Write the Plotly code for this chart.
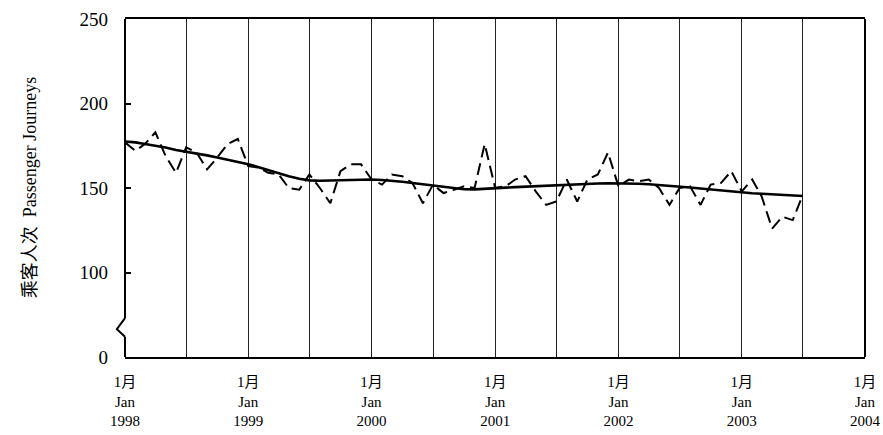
import plotly.graph_objects as go
import pandas as pd

# Months Jan 1998 .. Jul 2003
months = pd.date_range("1998-01-01", "2003-07-01", freq="MS")

actual = [
    177, 172, 176, 183, 169, 159, 174, 171, 161, 168, 176, 179,   # 1998
    163, 162, 159, 158, 150, 149, 158, 150, 141, 160, 164, 164,   # 1999
    155, 152, 158, 157, 153, 141, 152, 147, 149, 151, 150, 176,   # 2000
    150, 151, 155, 157, 148, 140, 142, 155, 142, 155, 158, 171,   # 2001
    151, 155, 154, 155, 150, 140, 150, 151, 140, 152, 153, 160,   # 2002
    148, 155, 145, 126, 133, 131, 146,                            # 2003
]

trend = [
    177.5, 177.0, 176.0, 175.0, 174.0, 172.5, 171.5, 170.5, 169.3, 168.0, 166.7, 165.3,
    164.0, 162.3, 160.5, 158.7, 157.0, 155.5, 154.5, 154.3, 154.5, 154.8, 155.0, 155.0,
    155.0, 154.7, 154.3, 153.7, 153.0, 152.2, 151.3, 150.5, 149.8, 149.3, 149.2, 149.4,
    149.8, 150.2, 150.5, 150.8, 151.1, 151.5, 151.8, 152.1, 152.3, 152.5, 152.7, 152.8,
    152.8, 152.7, 152.5, 152.2, 151.8, 151.3, 150.8, 150.3, 149.7, 149.1, 148.5, 147.8,
    147.2, 146.9, 146.6, 146.3, 146.0, 145.6, 145.3,
]

years = [1998, 1999, 2000, 2001, 2002, 2003, 2004]
x_tickvals = []
x_ticktext = []
for y in years:
    x_tickvals.append(f"{y}-01-01")
    x_ticktext.append(f"1月<br>Jan<br>{y}")
    if y < 2004:
        x_tickvals.append(f"{y}-07-01")
        x_ticktext.append("")

y_tickvals = [50, 100, 150, 200, 250]
y_ticktext = ["0", "100", "150", "200", "250"]

SERIF = "Liberation Serif, Times New Roman, Noto Sans CJK SC, serif"

fig = go.Figure()
fig.add_trace(go.Scatter(x=months, y=actual, mode="lines",
                         line=dict(color="black", width=2, dash="12px,6px"),
                         name="actual"))
fig.add_trace(go.Scatter(x=months, y=trend, mode="lines",
                         line=dict(color="black", width=2.6),
                         name="trend"))

fig.update_layout(
    width=883, height=435,
    margin=dict(l=125, r=18, t=19, b=78),
    plot_bgcolor="white", paper_bgcolor="white",
    showlegend=False,
    font=dict(family=SERIF, color="black"),
)

fig.update_xaxes(
    type="date", automargin=False,
    range=["1998-01-01", "2004-01-01"],
    tickmode="array", tickvals=x_tickvals, ticktext=x_ticktext,
    ticks="", showgrid=True, gridcolor="#222222", gridwidth=1,
    showline=True, linecolor="black", linewidth=2, mirror=True,
    tickfont=dict(size=15, family=SERIF),
    ticklabelstandoff=10,
    zeroline=False,
)

fig.update_yaxes(
    automargin=False,
    range=[50, 250],
    tickmode="array", tickvals=y_tickvals, ticktext=y_ticktext,
    ticks="inside", ticklen=6, tickcolor="black", tickwidth=1.5,
    showgrid=False, showline=False, zeroline=False,
    tickfont=dict(size=19, family=SERIF),
    ticklabelstandoff=16,
)

# Left and right axis lines, with an axis-break zigzag on the left
line_style = dict(color="black", width=2)
fig.add_shape(type="line", xref="x domain", yref="y", x0=1, x1=1, y0=50, y1=250, line=line_style)
fig.add_shape(type="line", xref="x domain", yref="y", x0=0, x1=0, y0=73, y1=250, line=line_style)
fig.add_shape(type="line", xref="x domain", yref="y", x0=0, x1=0, y0=50, y1=62, line=line_style)
fig.add_shape(type="path", xref="x domain", yref="y",
              path="M 0 73 L -0.011 66.5 L 0 62",
              line=line_style)

fig.add_annotation(
    xref="paper", yref="paper", x=-0.128, y=0.5,
    text="乘客人次  Passenger Journeys", textangle=-90,
    showarrow=False, font=dict(size=18, family=SERIF),
    xanchor="center", yanchor="middle",
)

fig.write_html("out.html", config={"displayModeBar": False},
               post_script="document.body.style.margin='0';document.body.style.overflow='hidden';")
